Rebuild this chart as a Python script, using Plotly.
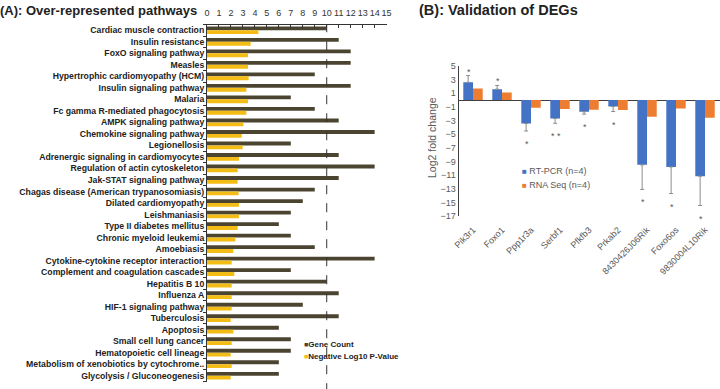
import plotly.graph_objects as go

# ---------------- Panel A data ----------------
pathways = [
    "Cardiac muscle contraction", "Insulin resistance", "FoxO signaling pathway", "Measles",
    "Hypertrophic cardiomyopathy (HCM)", "Insulin signaling pathway", "Malaria",
    "Fc gamma R-mediated phagocytosis", "AMPK signaling pathway", "Chemokine signaling pathway",
    "Legionellosis", "Adrenergic signaling in cardiomyocytes", "Regulation of actin cytoskeleton",
    "Jak-STAT signaling pathway", "Chagas disease (American trypanosomiasis)", "Dilated cardiomyopathy",
    "Leishmaniasis", "Type II diabetes mellitus", "Chronic myeloid leukemia", "Amoebiasis",
    "Cytokine-cytokine receptor interaction", "Complement and coagulation cascades", "Hepatitis B 10",
    "Influenza A", "HIF-1 signaling pathway", "Tuberculosis", "Apoptosis", "Small cell lung cancer",
    "Hematopoietic cell lineage", "Metabolism of xenobiotics by cytochrome..", "Glycolysis / Gluconeogenesis",
]
gene_count = [10, 11, 12, 12, 9, 12, 7, 9, 11, 14, 7, 11, 14, 11, 9, 8, 7, 6, 7, 9,
              14, 7, 10, 11, 8, 11, 6, 7, 7, 6, 6]
neg_log10_p = [4.29, 3.65, 3.43, 3.43, 3.48, 3.29, 3.43, 3.29, 3.04, 2.90, 2.98, 2.67, 2.56, 2.56,
               2.64, 2.67, 2.67, 2.56, 2.37, 2.20, 2.06, 2.28, 2.06, 2.06, 2.06, 1.98, 2.20, 2.06,
               1.98, 2.06, 1.98]
threshold = 10
x_ticks_a = list(range(0, 16))

# ---------------- Panel B data ----------------
genes = ["Pik3r1", "Foxo1", "Ppp1r3a", "Serbf1", "Pfkfb3", "Prkab2", "8430426J06Rik", "Foxo6os", "9830004L10Rik"]
rt_pcr = [2.6, 1.6, -3.43, -2.7, -1.71, -0.93, -9.5, -9.8, -11.16]
rt_pcr_err = [1.0, 0.55, 1.1, 0.7, 0.35, 0.75, 3.6, 3.9, 4.3]
rna_seq = [1.7, 1.13, -1.13, -1.32, -1.42, -1.47, -2.45, -1.22, -2.6]
signif = ["*", "*", "*", "* *", "*", "*", "*", "*", "*"]
y_ticks_b = list(range(-17, 6, 2))

DARK = "#4b4430"
YELLOW = "#f4bd16"
BLUE = "#4472c4"
ORANGE = "#ed7d31"
GRAY = "#595959"
SANS = "Liberation Sans, Arial"

W, H = 720, 389
def px(x):
    return x / W
def py(y):
    return 1 - y / H

fig = go.Figure()

# Panel A bars (dark first -> on top within each pair on the reversed axis)
fig.add_trace(go.Bar(y=pathways, x=gene_count, orientation="h", marker_color=DARK,
                     marker_line_width=0, xaxis="x", yaxis="y", showlegend=False, name="Gene Count"))
fig.add_trace(go.Bar(y=pathways, x=neg_log10_p, orientation="h", marker_color=YELLOW,
                     marker_line_width=0, xaxis="x", yaxis="y", showlegend=False,
                     name="Negative Log10 P-Value"))

# Panel B bars
plus = [e if v >= 0 else 0 for v, e in zip(rt_pcr, rt_pcr_err)]
minus = [e if v < 0 else 0 for v, e in zip(rt_pcr, rt_pcr_err)]
fig.add_trace(go.Bar(x=genes, y=rt_pcr, marker_color=BLUE, marker_line_width=0,
                     error_y=dict(type="data", array=plus, arrayminus=minus, symmetric=False,
                                  color="#8c8c8c", thickness=1, width=2),
                     xaxis="x2", yaxis="y2", showlegend=False, name="RT-PCR (n=4)"))
fig.add_trace(go.Bar(x=genes, y=rna_seq, marker_color=ORANGE, marker_line_width=0,
                     xaxis="x2", yaxis="y2", showlegend=False, name="RNA Seq (n=4)"))

# Significance stars
ann = []
for g, v, e, s in zip(genes, rt_pcr, rt_pcr_err, signif):
    end = v + e if v >= 0 else v - e
    ann.append(dict(x=g, y=end, xref="x2", yref="y2", text=s, showarrow=False,
                    xshift=-4, yanchor="bottom" if v >= 0 else "top",
                    yshift=-3 if v >= 0 else -6,
                    font=dict(family=SANS, size=9, color=GRAY)))

# Titles
ann.append(dict(x=px(199), y=py(10), xref="paper", yref="paper", xanchor="right", yanchor="middle",
                text="<b>(A): Over-represented pathways</b>", showarrow=False,
                font=dict(family=SANS, size=13, color="#222222")))
ann.append(dict(x=px(417), y=py(10), xref="paper", yref="paper", xanchor="left", yanchor="middle",
                text="<b>(B): Validation of DEGs</b>", showarrow=False,
                font=dict(family=SANS, size=14.5, color="#222222")))
# Panel B y title
ann.append(dict(x=px(432), y=py(138), xref="paper", yref="paper", xanchor="center", yanchor="middle",
                text="Log2 fold change", textangle=-90, showarrow=False,
                font=dict(family=SANS, size=10.5, color=GRAY)))

# Legends (as annotations)
ann.append(dict(x=px(302), y=py(344), xref="paper", yref="paper", xanchor="left", yanchor="middle",
                text=f"<span style='color:{DARK};font-size:7px'>■</span><b>Gene Count</b>",
                showarrow=False, font=dict(family=SANS, size=8, color="#222222")))
ann.append(dict(x=px(302), y=py(356), xref="paper", yref="paper", xanchor="left", yanchor="middle",
                text=f"<span style='color:{YELLOW};font-size:7px'>■</span><b>Negative Log10 P-Value</b>",
                showarrow=False, font=dict(family=SANS, size=8, color="#222222")))
ann.append(dict(x=px(520), y=py(171), xref="paper", yref="paper", xanchor="left", yanchor="middle",
                text=f"<span style='color:{BLUE};font-size:8px'>■</span> RT-PCR (n=4)",
                showarrow=False, font=dict(family=SANS, size=9, color=GRAY)))
ann.append(dict(x=px(520), y=py(185), xref="paper", yref="paper", xanchor="left", yanchor="middle",
                text=f"<span style='color:{ORANGE};font-size:8px'>■</span> RNA Seq (n=4)",
                showarrow=False, font=dict(family=SANS, size=9, color=GRAY)))

shapes = [dict(type="line", xref="x", yref="y domain", x0=threshold, x1=threshold, y0=-0.03, y1=1,
               line=dict(color="#333333", width=1, dash="dash"))]

fig.update_layout(
    width=W, height=H, margin=dict(l=0, r=0, t=0, b=0, autoexpand=False),
    paper_bgcolor="white", plot_bgcolor="white",
    barmode="group", bargap=0.33, bargroupgap=0,
    annotations=ann, shapes=shapes,
    xaxis=dict(domain=[px(207), px(386.6)], range=[0, 15], side="top", anchor="y",
               tickmode="array", tickvals=x_ticks_a, tickangle=0, automargin=False,
               showline=True, linecolor="#333333", linewidth=1, ticklabelstandoff=4,
               ticks="inside", ticklen=3, tickcolor="#333333", showgrid=False, zeroline=False,
               tickfont=dict(family=SANS, size=9, color="#333333")),
    yaxis=dict(domain=[py(381.5), py(24.5)], autorange="reversed", anchor="x",
               tickmode="array", tickvals=pathways, automargin=False,
               showline=True, linecolor="#333333", linewidth=1, ticks="outside", ticklen=3,
               tickson="boundaries", tickcolor="#333333", showgrid=False,
               tickfont=dict(family=SANS, size=8.7, color="#222222", weight="bold")),
    xaxis2=dict(domain=[px(458.5), px(719.5)], anchor="y2", showline=False, ticks="",
                tickmode="array", tickvals=genes, automargin=False,
                tickangle=-45, showgrid=False, zeroline=False, ticklabelstandoff=6,
                tickfont=dict(family=SANS, size=9, color=GRAY)),
    yaxis2=dict(domain=[py(216), py(66)], range=[-17, 5], anchor="x2", tickvals=y_ticks_b,
                automargin=False,
                showline=True, linecolor="#404040", linewidth=1, ticks="", showgrid=False,
                zeroline=True, zerolinecolor="#404040", zerolinewidth=1,
                tickfont=dict(family=SANS, size=9, color=GRAY)),
)
fig.write_html("out.html", config={"displayModeBar": False},
               post_script="document.body.style.margin='0';document.body.style.padding='0';")
